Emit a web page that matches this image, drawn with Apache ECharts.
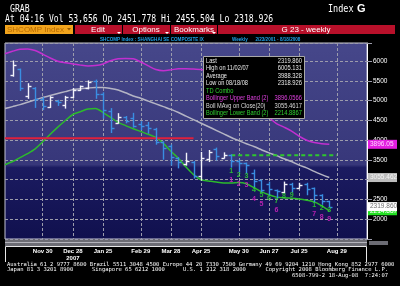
<!DOCTYPE html>
<html><head><meta charset="utf-8">
<script src="https://cdn.jsdelivr.net/npm/echarts/dist/echarts.min.js"></script>
<style>html,body{margin:0;padding:0;background:#000;}#c{width:400px;height:286px;}</style>
</head><body><div id="c"></div>
<script>
// weekly categories (Fridays)
const weeks = ['2007-10-26','2007-11-02','2007-11-09','2007-11-16','2007-11-23','2007-11-30','2007-12-07','2007-12-14','2007-12-21','2007-12-28',
'2008-01-04','2008-01-11','2008-01-18','2008-01-25','2008-02-01','2008-02-08','2008-02-15','2008-02-22','2008-02-29','2008-03-07','2008-03-14','2008-03-21','2008-03-28',
'2008-04-04','2008-04-11','2008-04-18','2008-04-25','2008-05-02','2008-05-09','2008-05-16','2008-05-23','2008-05-30','2008-06-06','2008-06-13','2008-06-20','2008-06-27',
'2008-07-04','2008-07-11','2008-07-18','2008-07-25','2008-08-01','2008-08-08','2008-08-15','2008-08-22','2008-08-29','2008-09-05','2008-09-12','2008-09-19','2008-09-26'];
// tick labels
const tickWeeks = ['2007-11-30','2007-12-28','2008-01-25','2008-02-29','2008-03-28','2008-04-25','2008-05-30','2008-06-27','2008-07-25','2008-08-29'];
const tickLabels = ['Nov 30','Dec 28\n2007','Jan 25','Feb 29','Mar 28','Apr 25','May 30','Jun 27','Jul 25','Aug 29'];
// OHLC bars (2007-11-02 .. 2008-08-22)
const barWeeks = weeks.slice(1, 44);
const opens  = [5650,5790,5110,5320,5040,4850,5000,4900,5090,5265,5310,5500,5180,4740,4440,4590,4560,4420,4380,4280,3950,3860,3550,3400,3450,3090,3520,3780,3560,3620,3480,3420,3180,2990,2900,2740,2700,2900,2800,2880,2790,2620,2451.778];
const highs  = [6005.131,5800,5430,5330,5080,5100,5010,5110,5310,5370,5500,5522,5200,4800,4672,4600,4680,4470,4450,4300,3960,3880,3560,3670,3460,3690,3740,3800,3680,3630,3500,3420,3245,2990,2940,2740,2940,2910,2910,2910,2790,2620,2455.504];
const lows   = [5620,5260,5060,4830,4778,4830,4880,4812,5080,5260,5300,5060,4559,4195,4430,4440,4330,4270,4180,3900,3520,3370,3300,3370,3040,2990,3460,3500,3550,3320,3200,3170,2820,2690,2620,2540,2670,2690,2790,2620,2440,2380,2318.926];
const closes = [5914,5316,5368,5032,4871,5091,4958,5101,5261,5361,5485,5180,4761,4320,4599,4497,4370,4348,4300,3962,3796,3580,3446,3472,3094,3557,3693,3613,3626,3473,3433,3379,2957,2748,2760,2703,2900,2778,2861,2775,2605,2450,2319.86];
// Bollinger study (2007-10-26 .. 2008-08-22)
const lineWeeks = weeks.slice(0, 44);
const bollMid   = [4800,4850,4900,4960,5020,5080,5130,5180,5230,5280,5300,5320,5335,5335,5310,5270,5200,5120,5060,4990,4920,4850,4780,4700,4610,4520,4430,4340,4250,4160,4070,3990,3910,3840,3760,3680,3610,3530,3460,3370,3300,3210,3130,3055.4617];
const bollUpper = [6190,6250,6300,6310,6270,6180,6080,6000,5960,5930,5900,5880,5890,5930,6010,6060,6070,6060,5980,5880,5790,5760,5780,5810,5810,5800,5790,5740,5650,5530,5380,5230,5080,4920,4760,4580,4420,4330,4230,4100,4000,3940,3910,3896.0566];
const bollLower = [3380,3460,3560,3660,3780,3960,4150,4330,4500,4650,4720,4790,4800,4700,4580,4450,4370,4290,4220,4150,4070,3920,3720,3540,3320,3130,3000,2970,2940,2920,2920,2930,2900,2800,2700,2620,2560,2540,2530,2510,2480,2440,2340,2214.8867];
// TD Combo counts
const tdSetupWeeks = ['2008-05-23','2008-05-30','2008-06-06','2008-06-13','2008-06-20','2008-06-27','2008-07-04','2008-07-11','2008-07-18','2008-08-08','2008-08-15','2008-08-22'];
const tdSetupNums  = ['1','2','3','4','5','6','7','8','9','1','2','3'];
const tdCountWeeks = ['2008-05-23','2008-05-30','2008-06-06','2008-06-13','2008-06-20','2008-07-04','2008-08-08','2008-08-15','2008-08-22'];
const tdCountNums  = ['1','2','3','4','5','6','7','8','9'];
// reference lines
const redLevel = 4050, redFrom = '2007-10-26', redTo = '2008-04-18';
const tdstLevel = 3620, tdstFrom = '2008-05-23', tdstTo = '2008-08-29';
const lastPrice = 2319.86;

const chart = echarts.init(document.getElementById('c'), null, {renderer:'canvas'});
const barData = barWeeks.map((w,i)=>[w, opens[i], highs[i], lows[i], closes[i]]);
const lowOf = w => lows[barWeeks.indexOf(w)];
function renderBar(params, api){
  const x = api.value(0);
  const o = api.value(1), h = api.value(2), l = api.value(3), c = api.value(4);
  const pH = api.coord([x,h]), pL = api.coord([x,l]), pO = api.coord([x,o]), pC = api.coord([x,c]);
  const col = c >= o ? '#f2f2fa' : '#3a8ee2';
  const px = Math.round(pH[0]) + 0.5;
  const st = {stroke:col, lineWidth:1.4};
  return {type:'group', children:[
    {type:'line', shape:{x1:px,y1:pH[1]-0.5,x2:px,y2:pL[1]+0.5}, style:st},
    {type:'line', shape:{x1:px-3,y1:Math.round(pO[1])+0.5,x2:px,y2:Math.round(pO[1])+0.5}, style:st},
    {type:'line', shape:{x1:px,y1:Math.round(pC[1])+0.5,x2:px+3,y2:Math.round(pC[1])+0.5}, style:st}
  ]};
}
function boxMark(value, text, bg, fg){
  return {symbol:'none', silent:true, lineStyle:{color:'rgba(0,0,0,0)', width:0},
    data:[{yAxis:value}],
    label:{show:true, position:'end', distance:1, formatter:text, backgroundColor:bg, color:fg,
      fontSize:6.5, fontFamily:'Liberation Sans', padding:[1,2,1,2], width:25}};
}
const mono = 'DejaVu Sans Mono';
const sans = 'Liberation Sans';
const legendRows = [
  ['Last','2319.860','#e8e8e8'],
  ['High on 11/02/07','6005.131','#e8e8e8'],
  ['Average','3988.328','#e8e8e8'],
  ['Low on 08/18/08','2318.926','#e8e8e8'],
  ['TD Combo','','#30d030'],
  ['Bollinger Upper Band (2)','3896.0566','#e040e0'],
  ['Boll MAvg on Close(20)','3055.4617','#d8d8d8'],
  ['Bollinger Lower Band (2)','2214.8867','#30d030']
];
const graphics = [
  {type:'text', x:10, y:4, scaleX:0.82, style:{text:'GRAB', font:'10px '+mono, fill:'#fff', verticalAlign:'top'}},
  {type:'text', x:328, y:4, scaleX:0.85, style:{text:'Index', font:'10px '+mono, fill:'#fff', verticalAlign:'top'}},
  {type:'text', x:357, y:3, style:{text:'G', font:'bold 11px '+sans, fill:'#fff', verticalAlign:'top'}},
  {type:'text', x:5, y:14, scaleX:0.81, style:{text:'At 04:16 Vol 53,656 Op 2451.778 Hi 2455.504 Lo 2318.926', font:'10px '+mono, fill:'#fff', verticalAlign:'top'}},
  {type:'rect', shape:{x:5,y:25,width:68,height:9}, style:{fill:'#f2a41c'}},
  {type:'text', x:7, y:29.5, style:{text:'SHCOMP Index', font:'8px '+sans, fill:'#b86a00', verticalAlign:'middle'}},
  {type:'polygon', shape:{points:[[67,28],[71,28],[69,30.5]]}, style:{fill:'#9a5a00'}},
  {type:'rect', shape:{x:75,y:25,width:47,height:9}, style:{fill:'#b8102a'}},
  {type:'rect', shape:{x:123,y:25,width:47,height:9}, style:{fill:'#b8102a'}},
  {type:'rect', shape:{x:171,y:25,width:46,height:9}, style:{fill:'#b8102a'}},
  {type:'rect', shape:{x:218,y:25,width:177,height:9}, style:{fill:'#b8102a'}},
  {type:'text', x:98, y:29.5, style:{text:'Edit', font:'8px '+sans, fill:'#fff', align:'center', verticalAlign:'middle'}},
  {type:'text', x:146, y:29.5, style:{text:'Options', font:'8px '+sans, fill:'#fff', align:'center', verticalAlign:'middle'}},
  {type:'text', x:194, y:29.5, style:{text:'Bookmarks', font:'8px '+sans, fill:'#fff', align:'center', verticalAlign:'middle'}},
  {type:'text', x:306, y:29.5, style:{text:'G 23 - weekly', font:'8px '+sans, fill:'#fff', align:'center', verticalAlign:'middle'}},
  {type:'polygon', shape:{points:[[117,32],[121,32],[119,34]]}, style:{fill:'#fff'}},
  {type:'polygon', shape:{points:[[165,32],[169,32],[167,34]]}, style:{fill:'#fff'}},
  {type:'polygon', shape:{points:[[212,32],[216,32],[214,34]]}, style:{fill:'#fff'}},
  {type:'text', x:100, y:39.5, style:{text:'SHCOMP Index : SHANGHAI SE COMPOSITE IX', font:'bold 4.6px '+sans, fill:'#1ea2e8', verticalAlign:'middle'}},
  {type:'text', x:232, y:39.5, style:{text:'Weekly      2/23/2001 - 8/18/2008', font:'bold 4.6px '+sans, fill:'#1ea2e8', verticalAlign:'middle'}},
  // scroll strip and axis box
  {type:'rect', shape:{x:5,y:239,width:362,height:7}, style:{fill:'#6c6c74'}},
  {type:'line', shape:{x1:5,y1:242.5,x2:367,y2:242.5}, style:{stroke:'#b4b4bc', lineWidth:1}},
  {type:'rect', shape:{x:369,y:241,width:19,height:4}, style:{fill:'#6c6c74'}},
  {type:'polyline', shape:{points:[[5.5,262],[5.5,246.5],[366.5,246.5],[366.5,262]]}, style:{stroke:'#e8e8e8', lineWidth:1, fill:null}},
  // footer
  {type:'text', x:7, y:264.5, style:{text:'Australia 61 2 9777 8600 Brazil 5511 3048 4500 Europe 44 20 7330 7500 Germany 49 69 9204 1210 Hong Kong 852 2977 6000', font:'5.5px '+mono, fill:'#fff', verticalAlign:'middle'}},
  {type:'text', x:7, y:270, style:{text:'Japan 81 3 3201 8900', font:'5.5px '+mono, fill:'#fff', verticalAlign:'middle'}},
  {type:'text', x:92, y:270, style:{text:'Singapore 65 6212 1000', font:'5.5px '+mono, fill:'#fff', verticalAlign:'middle'}},
  {type:'text', x:183, y:270, style:{text:'U.S. 1 212 318 2000', font:'5.5px '+mono, fill:'#fff', verticalAlign:'middle'}},
  {type:'text', x:388, y:270, style:{text:'Copyright 2008 Bloomberg Finance L.P.', font:'5.5px '+mono, fill:'#fff', align:'right', verticalAlign:'middle'}},
  {type:'text', x:388, y:275.5, style:{text:'6508-799-2 18-Aug-08  7:24:07', font:'5.5px '+mono, fill:'#fff', align:'right', verticalAlign:'middle'}},
  // legend box
  {type:'rect', z:50, shape:{x:203.5,y:56.5,width:101,height:62}, style:{fill:'#000', stroke:'#a8a8a8', lineWidth:1}}
];
legendRows.forEach((r,i)=>{
  const y = 61 + i*7.5;
  graphics.push({type:'text', z:51, x:206, y:y, scaleX:0.86, style:{text:r[0], font:'6.6px '+sans, fill:r[2], verticalAlign:'middle'}});
  if (r[1]) graphics.push({type:'text', z:51, x:302, y:y, scaleX:0.88, style:{text:r[1], font:'6.6px '+sans, fill:r[2], align:'right', verticalAlign:'middle'}});
});

const option = {
  backgroundColor:'#000',
  animation:false,
  grid:{left:5, right:33, top:43, bottom:47, show:true, borderColor:'#c4c4d4', borderWidth:1,
    backgroundColor:{type:'linear', x:0, y:0, x2:0, y2:1, colorStops:[
      {offset:0, color:'#46478a'}, {offset:0.62, color:'#37377a'}, {offset:0.635, color:'#1b1b60'}, {offset:1, color:'#10104e'}]}},
  xAxis:{type:'category', data:weeks, boundaryGap:false,
    axisLine:{show:false}, axisTick:{show:false},
    axisLabel:{interval:(i,v)=>tickWeeks.includes(v), formatter:v=>tickLabels[tickWeeks.indexOf(v)] || '',
      color:'#fff', fontSize:6, fontWeight:'bold', fontFamily:sans, margin:9, lineHeight:7},
    splitLine:{show:true, interval:(i,v)=>tickWeeks.includes(v), lineStyle:{color:'#9c9cac', type:[3,2], width:1}}
  },
  yAxis:{type:'value', position:'right', min:1500, max:6460, interval:500, scale:false,
    axisLine:{show:true, lineStyle:{color:'#ffffff', width:1}},
    axisTick:{show:true, length:5, lineStyle:{color:'#9c9cac'}},
    axisLabel:{color:'#fff', fontSize:6.5, fontFamily:sans, margin:6, formatter:v=>(v<2000||v>6000)?'':String(v)},
    splitLine:{show:true, lineStyle:{color:'#9c9cac', type:[3,2], width:1}}
  },
  series:[
    {type:'line', name:'Upper', data:lineWeeks.map((w,i)=>[w,bollUpper[i]]), smooth:0.3, showSymbol:false, symbol:'none',
      lineStyle:{color:'#c22fd0', width:1.5}, z:2,
      markLine:boxMark(bollUpper[bollUpper.length-1], '3896.05', '#e21ee0', '#ffd6ff')},
    {type:'line', name:'Mid', data:lineWeeks.map((w,i)=>[w,bollMid[i]]), smooth:0.3, showSymbol:false, symbol:'none',
      lineStyle:{color:'#b4b4c4', width:1.5}, z:2,
      markLine:boxMark(bollMid[bollMid.length-1], '3055.462', '#bdbdbd', '#f4f4f4')},
    {type:'line', name:'Lower', data:lineWeeks.map((w,i)=>[w,bollLower[i]]), smooth:0.3, showSymbol:false, symbol:'none',
      lineStyle:{color:'#2cba2c', width:1.5}, z:2,
      markLine:boxMark(bollLower[bollLower.length-1], '2214.887', '#22e022', '#ffffff')},
    {type:'line', name:'Red', data:[[redFrom,redLevel],[redTo,redLevel]], showSymbol:false, symbol:'none',
      lineStyle:{color:'#e0203c', width:2}, z:3},
    {type:'line', name:'TDST', data:[[tdstFrom,tdstLevel],[tdstTo,tdstLevel]], showSymbol:false, symbol:'none',
      lineStyle:{color:'#2ec82e', width:2, type:[4,3]}, z:3},
    {type:'custom', name:'Bars', renderItem:renderBar, data:barData, encode:{x:0, y:[1,2,3,4]}, z:4,
      markLine:boxMark(lastPrice, '2319.860', '#ffffff', '#707070')},
    {type:'scatter', name:'TDsetup', data:tdSetupWeeks.map((w,i)=>[w, lowOf(w), tdSetupNums[i]]), symbolSize:0, z:5,
      label:{show:true, position:'bottom', distance:0, formatter:p=>p.data[2], color:'#2ee02e', fontSize:7, fontWeight:'bold', fontFamily:sans}},
    {type:'scatter', name:'TDcount', data:tdCountWeeks.map((w,i)=>[w, lowOf(w), tdCountNums[i]]), symbolSize:0, z:5,
      label:{show:true, position:'bottom', distance:9, formatter:p=>p.data[2], color:'#e024c8', fontSize:7, fontWeight:'bold', fontFamily:sans}}
  ],
  graphic:graphics
};
chart.setOption(option);
</script>
</body></html>
